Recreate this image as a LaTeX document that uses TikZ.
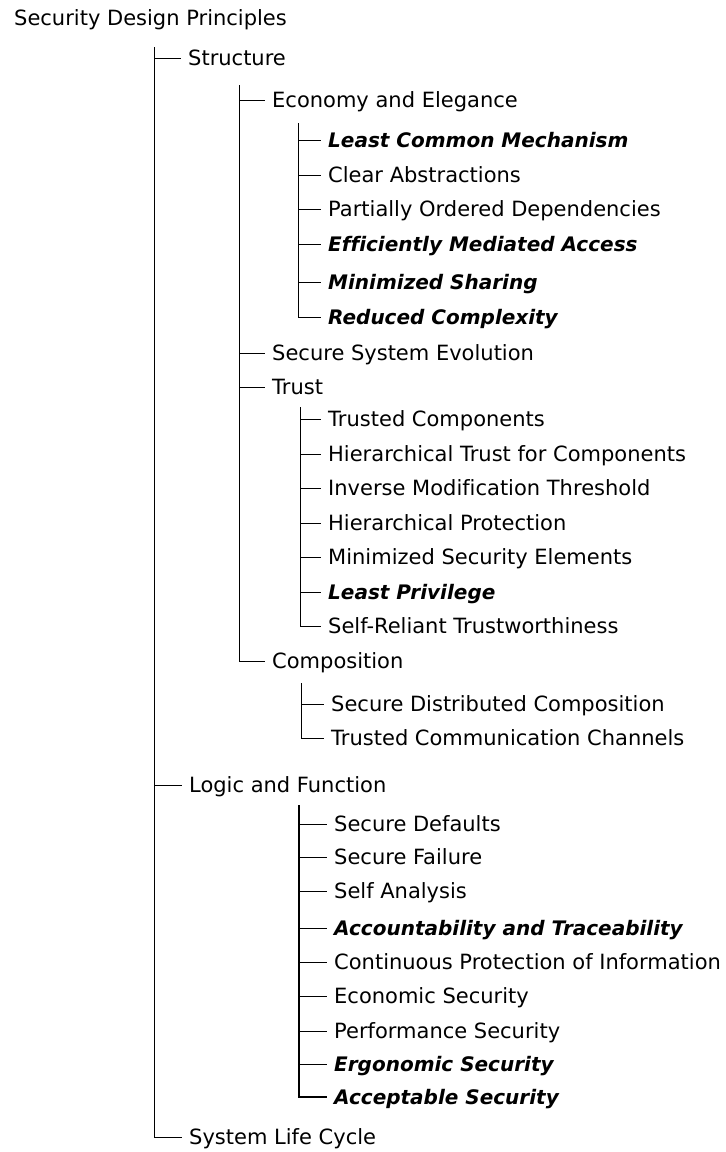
\documentclass[tikz,border=0pt]{standalone}
\usepackage{fontspec}
\setmainfont[Ligatures=NoCommon]{DejaVu Sans}
\usetikzlibrary{positioning}
\begin{document}
\begin{tikzpicture}[x=1pt,y=-1pt,
            leaf/.style={anchor=west,inner xsep=7pt,inner ysep=0pt,text height=15pt,text depth=0pt,
                font=\fontsize{21}{25}\selectfont},
            key leaf/.style={leaf,font=\fontsize{20}{25}\selectfont\bfseries\itshape},
            branch/.style={draw,line width=0.8pt},
            thick branch/.style={draw,line width=1.6pt}]
        \useasboundingbox (0,0) rectangle (726,1152);

        % Define vertices
        \node[leaf] (root) at (7,17.5) {Security Design Principles};

        \node[leaf] (structure) at (181,58) {Structure};
        \node[leaf] (logic) at (182,785) {Logic and Function};
        \node[leaf] (cycle) at (182,1137) {System Life Cycle};

        \node[leaf] (economy) at (265,100) {Economy and Elegance};
        \node[leaf] (evolution) at (265,353) {Secure System Evolution};
        \node[leaf] (trust) at (265,387) {Trust};
        \node[leaf] (composition) at (265,661) {Composition};

        \node[key leaf] (lcm) at (321,140) {Least Common Mechanism};
        \node[leaf] (abstractions) at (321,175) {Clear Abstractions};
        \node[leaf] (dependencies) at (321,209) {Partially Ordered Dependencies};
        \node[key leaf] (mediated) at (321,244) {Efficiently Mediated Access};
        \node[key leaf] (sharing) at (321,282) {Minimized Sharing};
        \node[key leaf] (complexity) at (321,317) {Reduced Complexity};

        \node[leaf] (trusted) at (321,419) {Trusted Components};
        \node[leaf] (hiertrust) at (321,454) {Hierarchical Trust for Components};
        \node[leaf] (inverse) at (321,488) {Inverse Modification Threshold};
        \node[leaf] (hierprot) at (321,523) {Hierarchical Protection};
        \node[leaf] (elements) at (321,557) {Minimized Security Elements};
        \node[key leaf] (privilege) at (321,592) {Least Privilege};
        \node[leaf] (selfreliant) at (321,626) {Self-Reliant Trustworthiness};

        \node[leaf] (distributed) at (324,704) {Secure Distributed Composition};
        \node[leaf] (channels) at (324,738) {Trusted Communication Channels};

        \node[leaf] (defaults) at (327,824) {Secure Defaults};
        \node[leaf] (failure) at (327,857) {Secure Failure};
        \node[leaf] (analysis) at (327,891) {Self Analysis};
        \node[key leaf] (accountability) at (327,928) {Accountability and Traceability};
        \node[leaf] (continuous) at (327,962) {Continuous Protection of Information};
        \node[leaf] (economic) at (327,996) {Economic Security};
        \node[leaf] (performance) at (327,1031) {Performance Security};
        \node[key leaf] (ergonomic) at (327,1064) {Ergonomic Security};
        \node[key leaf] (acceptable) at (327,1097) {Acceptable Security};

        % Spine tops
        \coordinate (root spine) at (154.5,47);
        \coordinate (structure spine) at (239,85);
        \coordinate (economy spine) at (298,123);
        \coordinate (trust spine) at (300,407);
        \coordinate (composition spine) at (301,683);
        \coordinate (logic spine) at (299,805);

        % Draw edges
        \draw[branch] (root spine) |- (cycle.west);
        \draw[branch] (structure spine) |- (composition.west);
        \draw[branch] (economy spine) |- (complexity.west);
        \draw[branch] (trust spine) |- (selfreliant.west);
        \draw[branch] (composition spine) |- (channels.west);
        \draw[thick branch] (logic spine) |- (acceptable.west);

        \path[branch]
            (root spine |- structure.west) edge (structure.west)
            (root spine |- logic.west) edge (logic.west)
            (structure spine |- economy.west) edge (economy.west)
            (structure spine |- evolution.west) edge (evolution.west)
            (structure spine |- trust.west) edge (trust.west)
            (economy spine |- lcm.west) edge (lcm.west)
            (economy spine |- abstractions.west) edge (abstractions.west)
            (economy spine |- dependencies.west) edge (dependencies.west)
            (economy spine |- mediated.west) edge (mediated.west)
            (economy spine |- sharing.west) edge (sharing.west)
            (trust spine |- trusted.west) edge (trusted.west)
            (trust spine |- hiertrust.west) edge (hiertrust.west)
            (trust spine |- inverse.west) edge (inverse.west)
            (trust spine |- hierprot.west) edge (hierprot.west)
            (trust spine |- elements.west) edge (elements.west)
            (trust spine |- privilege.west) edge (privilege.west)
            (composition spine |- distributed.west) edge (distributed.west)
            (logic spine |- defaults.west) edge (defaults.west)
            (logic spine |- failure.west) edge (failure.west)
            (logic spine |- analysis.west) edge (analysis.west)
            (logic spine |- accountability.west) edge (accountability.west)
            (logic spine |- continuous.west) edge (continuous.west)
            (logic spine |- economic.west) edge (economic.west)
            (logic spine |- performance.west) edge (performance.west)
            (logic spine |- ergonomic.west) edge (ergonomic.west);

        \end{tikzpicture}
\end{document}
